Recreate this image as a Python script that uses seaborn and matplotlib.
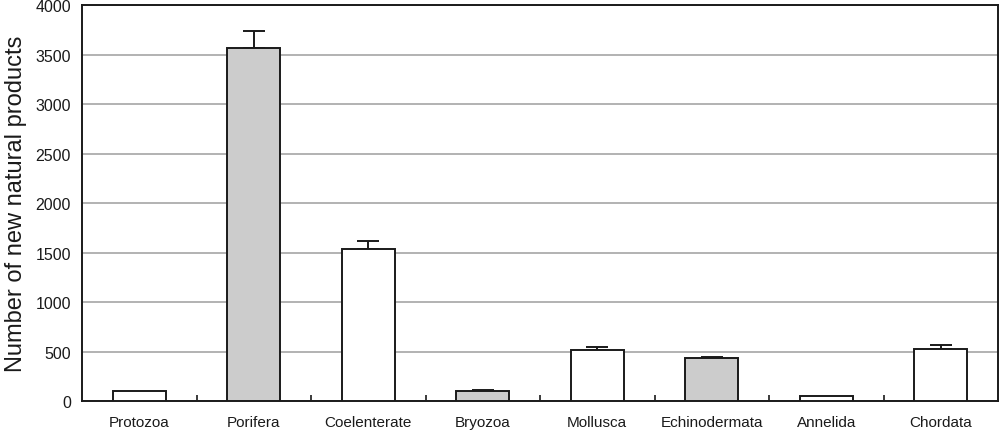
import numpy as np
import pandas as pd
import matplotlib.pyplot as plt
import seaborn as sns

# data
phyla = ["Protozoa", "Porifera", "Coelenterate", "Bryozoa",
         "Mollusca", "Echinodermata", "Annelida", "Chordata"]
counts = [100, 3570, 1540, 100, 512, 432, 50, 525]
errors = [0, 170, 80, 12, 30, 15, 0, 40]
shaded = [False, True, False, True, False, True, False, False]

df = pd.DataFrame({"phylum": phyla, "count": counts,
                   "group": ["shaded" if s else "plain" for s in shaded]})

sns.set_theme(style="white")
plt.rcParams['font.family'] = ['Liberation Sans', 'DejaVu Sans']

fig, ax = plt.subplots(figsize=(10, 4.31), dpi=100)

sns.barplot(data=df, x="phylum", y="count", hue="group",
            palette={"shaded": "#cccccc", "plain": "white"},
            dodge=False, width=0.46, edgecolor="#1a1a1a", linewidth=1.4,
            legend=False, ax=ax, zorder=3)

# upper-only error bars
xpos = np.arange(len(phyla))
err = np.array(errors, dtype=float)
mask = err > 0
ax.errorbar(xpos[mask], np.array(counts)[mask],
            yerr=[np.zeros(mask.sum()), err[mask]],
            fmt="none", ecolor="#1a1a1a", elinewidth=1.4,
            capsize=8, capthick=1.4, zorder=2)

ax.set_ylim(0, 4000)
ax.set_xlim(-0.5, len(phyla) - 0.5)
ax.set_yticks(np.arange(0, 4001, 500))
ax.yaxis.grid(True, color="#a6a6a6", linewidth=1.2, zorder=0)
ax.set_axisbelow(True)

for s in ax.spines.values():
    s.set_color("#1a1a1a")
    s.set_linewidth(1.4)

ax.set_xlabel("")
ax.set_ylabel("Number of new natural products", fontsize=17,
              color="#1a1a1a", labelpad=6)
ax.tick_params(axis="x", length=0, labelsize=11, labelcolor="#1a1a1a", pad=10)
ax.tick_params(axis="y", direction="in", length=5, width=1.2,
               color="#1a1a1a", labelsize=11.5, labelcolor="#1a1a1a", pad=8)
ax.set_xticks(np.arange(0.5, len(phyla) - 1, 1), minor=True)
ax.tick_params(axis="x", which="minor", direction="in", length=4,
               width=1.2, color="#1a1a1a", bottom=True)

fig.subplots_adjust(left=0.082, right=0.998, top=0.986, bottom=0.067)
fig.savefig("out.png", dpi=100)
